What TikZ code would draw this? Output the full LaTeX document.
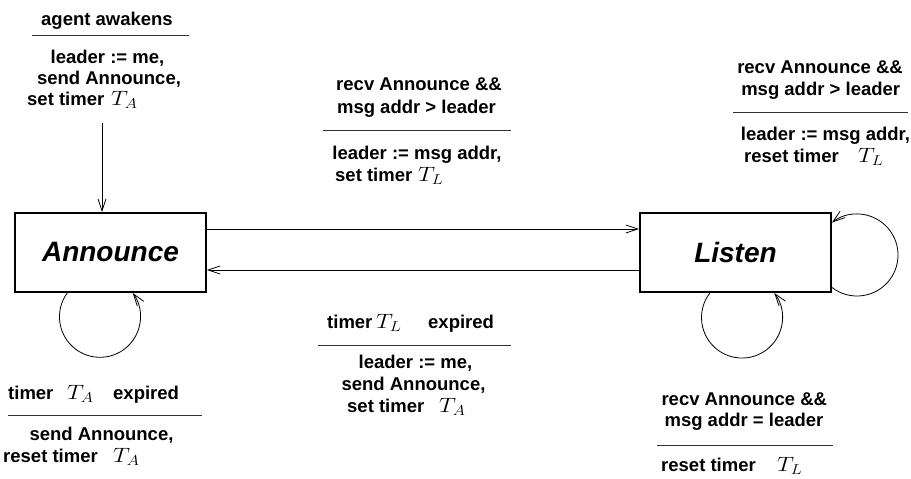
\documentclass[tikz,border=0pt]{standalone}
\usepackage{fontspec}
\setmainfont{Liberation Sans}
\usetikzlibrary{arrows.meta}
\newcommand{\tsym}[1]{\scalebox{1.15}[1]{$T_{#1}$}}
\tikzset{
  lbl/.style={font=\fontsize{18.5pt}{20pt}\selectfont\bfseries, inner sep=0pt},
  mth/.style={font=\fontsize{21pt}{22pt}\selectfont, inner sep=0pt},
  statebox/.style={draw, line width=1.8pt, minimum width=191pt, minimum height=79pt,
    inner sep=0pt, font=\fontsize{28pt}{30pt}\selectfont\bfseries\itshape},
  trans/.style={line width=0.8pt, -{Straight Barb[length=12pt,width=8pt,line width=0.8pt]}},
  barline/.style={line width=0.8pt, draw=black!80},
}
\begin{document}
\begin{tikzpicture}[x=1pt,y=1pt]
\useasboundingbox (0,0) rectangle (911,-479);

% states
\node[statebox] (ann) at (110.5,-252.5) {Announce};
\node[statebox] (lis) at (735.5,-252.5) {Listen};

% initial arrow
\coordinate (init) at (102,-123);
\draw[trans] (init) -- (init |- ann.north);

% transitions between states
\draw[trans] ([yshift=23.5pt]ann.east) -- ([yshift=23.5pt]lis.west);
\draw[trans] ([yshift=-17.5pt]lis.west) -- ([yshift=-17.5pt]ann.east);

% self loops
\coordinate (annloop) at (67.2,-293);
\draw[trans] (annloop) arc[start angle=144, end angle=396, radius=40.5];
\coordinate (lisloopb) at (709.8,-293);
\draw[trans] (lisloopb) arc[start angle=142.7, end angle=397.3, radius=40.5];
\coordinate (lisloopr) at (832,-287.5);
\draw[trans] (lisloopr) arc[start angle=232.4, end angle=487.6, radius=41];

% ---- label: agent awakens
\node[lbl, anchor=base] (l1a) at (107,-25) {agent awakens};
\coordinate (r1a) at (32,-35); \coordinate (r1b) at (189,-35);
\draw[barline] (r1a) -- (r1b);
\node[lbl, anchor=base] (l1b) at (107.5,-63) {leader := me,};
\node[lbl, anchor=base] (l1c) at (109,-84) {send Announce,};
\node[lbl, anchor=base west] (l1d) at (27,-105) {set timer};
\node[mth, anchor=base west] (l1e) at (111,-105) {\tsym{A}};

% ---- label: Announce -> Listen
\node[lbl, anchor=base] (l2a) at (419,-90) {recv Announce \&\&};
\node[lbl, anchor=base] (l2b) at (416.5,-113) {msg addr > leader};
\coordinate (r2a) at (323,-130); \coordinate (r2b) at (511,-130);
\draw[barline] (r2a) -- (r2b);
\node[lbl, anchor=base] (l2c) at (417,-159) {leader := msg addr,};
\node[lbl, anchor=base west] (l2d) at (335,-181.7) {set timer};
\node[mth, anchor=base west] (l2e) at (418,-181.7) {\tsym{L}};

% ---- label: Listen right loop
\node[lbl, anchor=base] (l3a) at (820,-73) {recv Announce \&\&};
\node[lbl, anchor=base] (l3b) at (820.7,-95) {msg addr > leader};
\coordinate (r3a) at (733,-112.3); \coordinate (r3b) at (908,-112.3);
\draw[barline] (r3a) -- (r3b);
\node[lbl, anchor=base] (l3c) at (825.5,-140.5) {leader := msg addr,};
\node[lbl, anchor=base west] (l3d) at (744,-162) {reset timer};
\node[mth, anchor=base west] (l3e) at (858,-162) {\tsym{L}};

% ---- label: Listen -> Announce
\node[lbl, anchor=base west] (l4a) at (327,-328) {timer};
\node[mth, anchor=base west] (l4b) at (376,-328) {\tsym{L}};
\node[lbl, anchor=base west] (l4c) at (428,-328) {expired};
\coordinate (r4a) at (318,-345.7); \coordinate (r4b) at (511,-345.7);
\draw[barline] (r4a) -- (r4b);
\node[lbl, anchor=base] (l4d) at (415.5,-368) {leader := me,};
\node[lbl, anchor=base] (l4e) at (413.5,-390) {send Announce,};
\node[lbl, anchor=base west] (l4f) at (347,-412.7) {set timer};
\node[mth, anchor=base west] (l4g) at (439,-412.7) {\tsym{A}};

% ---- label: Listen bottom loop
\node[lbl, anchor=base] (l5a) at (744.3,-405) {recv Announce \&\&};
\node[lbl, anchor=base] (l5b) at (744,-426.7) {msg addr = leader};
\coordinate (r5a) at (657,-445); \coordinate (r5b) at (832.7,-445);
\draw[barline] (r5a) -- (r5b);
\node[lbl, anchor=base west] (l5c) at (661,-471.7) {reset timer};
\node[mth, anchor=base west] (l5d) at (777,-471.7) {\tsym{L}};

% ---- label: Announce loop
\node[lbl, anchor=base west] (l6a) at (8,-399) {timer};
\node[mth, anchor=base west] (l6b) at (67,-399) {\tsym{A}};
\node[lbl, anchor=base west] (l6c) at (113,-399) {expired};
\coordinate (r6a) at (8,-415.7); \coordinate (r6b) at (201.7,-415.7);
\draw[barline] (r6a) -- (r6b);
\node[lbl, anchor=base] (l6d) at (101.5,-440) {send Announce,};
\node[lbl, anchor=base west] (l6e) at (3,-462.7) {reset timer};
\node[mth, anchor=base west] (l6f) at (113,-462.7) {\tsym{A}};
\end{tikzpicture}
\end{document}
